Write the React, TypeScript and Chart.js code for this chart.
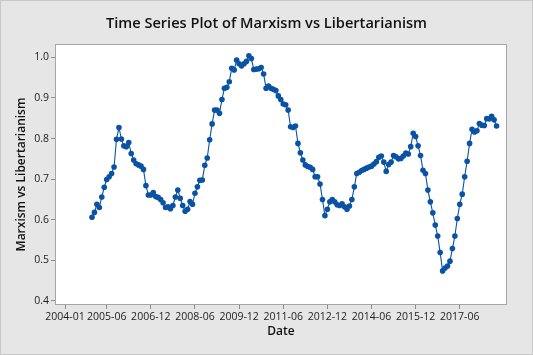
import { useEffect, useRef } from "react";
import { Chart, registerables } from "chart.js";

Chart.register(...registerables);

// First month of the series (monthly observations)
const FIRST_MONTH = "2004-12";

// Marxism vs Libertarianism, one value per month from 2004-12 to 2018-09
const values = [
  0.606, 0.618, 0.638, 0.630, 0.656, 0.680, 0.699, 0.706, 0.714, 0.730,
  0.798, 0.827, 0.799, 0.782, 0.780, 0.790, 0.763, 0.747, 0.738, 0.735,
  0.732, 0.724, 0.684, 0.661, 0.661, 0.667, 0.657, 0.655, 0.650, 0.642,
  0.630, 0.632, 0.627, 0.635, 0.656, 0.673, 0.653, 0.635, 0.621, 0.626,
  0.645, 0.638, 0.665, 0.681, 0.697, 0.698, 0.734, 0.752, 0.797, 0.836,
  0.870, 0.870, 0.862, 0.896, 0.924, 0.926, 0.940, 0.973, 0.969, 0.993,
  0.984, 0.979, 0.984, 0.990, 1.004, 0.997, 0.970, 0.971, 0.972, 0.975,
  0.959, 0.924, 0.929, 0.924, 0.921, 0.918, 0.905, 0.896, 0.885, 0.883,
  0.870, 0.829, 0.827, 0.831, 0.788, 0.765, 0.747, 0.735, 0.731, 0.729,
  0.724, 0.706, 0.706, 0.688, 0.650, 0.610, 0.626, 0.644, 0.650, 0.644,
  0.637, 0.635, 0.639, 0.632, 0.626, 0.634, 0.650, 0.681, 0.714, 0.717,
  0.721, 0.724, 0.727, 0.730, 0.732, 0.737, 0.743, 0.754, 0.757, 0.742,
  0.719, 0.736, 0.742, 0.758, 0.755, 0.750, 0.751, 0.757, 0.764, 0.762,
  0.780, 0.813, 0.805, 0.782, 0.758, 0.722, 0.714, 0.673, 0.644, 0.617,
  0.587, 0.560, 0.519, 0.474, 0.481, 0.486, 0.498, 0.529, 0.560, 0.603,
  0.638, 0.663, 0.706, 0.744, 0.788, 0.823, 0.816, 0.819, 0.837, 0.833,
  0.832, 0.849, 0.848, 0.855, 0.846, 0.831,
];

const xTickLabels = [
  "2004-01", "2005-06", "2006-12", "2008-06", "2009-12",
  "2011-06", "2012-12", "2014-06", "2015-12", "2017-06",
];

const yTickValues = [0.4, 0.5, 0.6, 0.7, 0.8, 0.9, 1.0];

const TITLE = "Time Series Plot of Marxism vs Libertarianism";
const X_TITLE = "Date";
const Y_TITLE = "Marxism vs Libertarianism";

// month index: 2004-01 -> 1
function monthIndex(s: string): number {
  const [y, m] = s.split("-").map(Number);
  return (y - 2004) * 12 + m;
}

const FONT = "'Open Sans', 'Noto Sans', 'DejaVu Sans', sans-serif";
const BLUE = "#0a52a3";

export default function App() {
  const ref = useRef<HTMLCanvasElement | null>(null);

  useEffect(() => {
    document.body.style.margin = "0";
    const canvas = ref.current;
    if (!canvas) return;
    const start = monthIndex(FIRST_MONTH);
    const data = values.map((v, i) => ({ x: start + i, y: v }));
    const labelByIndex: Record<number, string> = {};
    xTickLabels.forEach((l) => (labelByIndex[monthIndex(l)] = l));

    const decor = {
      id: "decor",
      beforeDraw(c: any) {
        const ctx = c.ctx;
        const a = c.chartArea;
        ctx.save();
        ctx.fillStyle = "#e6e6e6";
        ctx.fillRect(0, 0, c.width, c.height);
        ctx.fillStyle = "#ffffff";
        ctx.fillRect(a.left, a.top, a.right - a.left, a.bottom - a.top);
        ctx.restore();
      },
      afterDraw(c: any) {
        const ctx = c.ctx;
        const a = c.chartArea;
        ctx.save();
        ctx.strokeStyle = "#a6a6a6";
        ctx.lineWidth = 1;
        ctx.strokeRect(a.left + 0.5, a.top + 0.5, a.right - a.left - 1, a.bottom - a.top - 1);
        ctx.strokeStyle = "#c8c8c8";
        ctx.strokeRect(0.5, 0.5, c.width - 1, c.height - 1);

        ctx.fillStyle = "#111111";
        ctx.textAlign = "center";
        ctx.textBaseline = "middle";
        ctx.font = `600 14.6px ${FONT}`;
        ctx.fillText(TITLE, c.width / 2, 24);

        ctx.font = `600 12px ${FONT}`;
        ctx.fillText(X_TITLE, (a.left + a.right) / 2, 332);

        ctx.translate(22, (a.top + a.bottom) / 2);
        ctx.rotate(-Math.PI / 2);
        ctx.fillText(Y_TITLE, 0, 0);
        ctx.restore();
      },
    };

    const chart = new Chart(canvas, {
      type: "line",
      data: {
        datasets: [
          {
            data,
            borderColor: BLUE,
            borderWidth: 1.1,
            backgroundColor: BLUE,
            pointBackgroundColor: BLUE,
            pointBorderWidth: 0,
            pointRadius: 2.8,
            tension: 0,
            fill: false,
          },
        ],
      },
      options: {
        responsive: false,
        animation: false,
        layout: { padding: { top: 44, right: 26, left: 0, bottom: 0 } },
        plugins: {
          legend: { display: false },
          title: { display: false },
          tooltip: { enabled: false },
        },
        scales: {
          x: {
            type: "linear",
            min: -3.08,
            max: 181.26,
            afterFit(s: any) {
              s.height = 50;
            },
            afterBuildTicks(s: any) {
              s.ticks = xTickLabels.map((l) => ({ value: monthIndex(l) }));
            },
            grid: {
              display: true,
              drawOnChartArea: false,
              drawTicks: true,
              tickLength: 4,
              color: "#8c8c8c",
            },
            border: { display: false },
            ticks: {
              autoSkip: false,
              maxRotation: 0,
              padding: 2,
              color: "#222222",
              font: { family: FONT, size: 10.5 },
              callback: (v: any) => labelByIndex[Number(v)] ?? "",
            },
          },
          y: {
            type: "linear",
            min: 0.39,
            max: 1.0328,
            afterFit(s: any) {
              s.width = 55;
            },
            afterBuildTicks(s: any) {
              s.ticks = yTickValues.map((v) => ({ value: v }));
            },
            grid: {
              display: true,
              drawOnChartArea: false,
              drawTicks: true,
              tickLength: 4,
              color: "#8c8c8c",
            },
            border: { display: false },
            ticks: {
              padding: 2,
              color: "#222222",
              font: { family: FONT, size: 10.5 },
              callback: (v: any) => Number(v).toFixed(1),
            },
          },
        },
      },
      plugins: [decor],
    });

    return () => chart.destroy();
  }, []);

  return (
    <div style={{ width: 533, height: 355 }}>
      <canvas ref={ref} width={533} height={355} style={{ display: "block" }} />
    </div>
  );
}
